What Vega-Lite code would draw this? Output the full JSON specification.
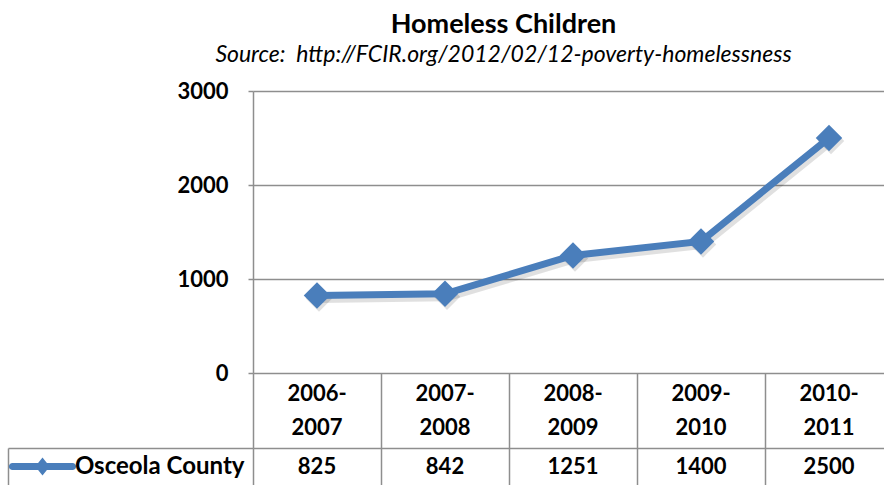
{
  "$schema": "https://vega.github.io/schema/vega-lite/v6.json",
  "background": "white",
  "padding": {"left": 8, "top": 11, "right": 0, "bottom": 0},
  "title": {
    "text": "Homeless Children",
    "subtitle": "Source:\u00a0 http://FCIR.org/2012/02/12-poverty-homelessness",
    "anchor": "middle",
    "dx": 53,
    "font": "Lato",
    "fontSize": 27,
    "fontWeight": "bold",
    "color": "black",
    "subtitleFont": "Lato",
    "subtitleFontSize": 23,
    "subtitleFontStyle": "italic",
    "subtitleColor": "black",
    "subtitlePadding": 5,
    "offset": 12
  },
  "datasets": {
    "homeless": [
      {"period": "2006-\n2007", "series": "Osceola County", "children": 825},
      {"period": "2007-\n2008", "series": "Osceola County", "children": 842},
      {"period": "2008-\n2009", "series": "Osceola County", "children": 1251},
      {"period": "2009-\n2010", "series": "Osceola County", "children": 1400},
      {"period": "2010-\n2011", "series": "Osceola County", "children": 2500}
    ],
    "seriesList": [{"series": "Osceola County"}]
  },
  "columns": 2,
  "spacing": 0,
  "bounds": "flush",
  "align": "each",
  "concat": [
    {
      "width": 245,
      "height": 282,
      "data": {"values": [{}]},
      "mark": {"type": "text", "text": ""},
      "encoding": {}
    },
    {
      "width": 631,
      "height": 282,
      "data": {"name": "homeless"},
      "encoding": {
        "x": {"field": "period", "type": "ordinal", "scale": {"type": "point", "range": [0, 640], "padding": 0.5}, "axis": null},
        "y": {
          "field": "children",
          "type": "quantitative",
          "scale": {"domain": [0, 3000], "nice": false},
          "axis": {"values": [0, 1000, 2000, 3000], "format": "d", "title": null, "grid": true, "tickSize": 5, "labelPadding": 20, "domainWidth": 1.5, "tickWidth": 1.5}
        }
      },
      "layer": [
        {"mark": {"type": "line", "color": "#000000", "opacity": 0.12, "strokeWidth": 9, "xOffset": 2, "yOffset": 3}},
        {"mark": {"type": "point", "shape": "diamond", "filled": true, "size": 700, "color": "#000000", "opacity": 0.12, "xOffset": 2, "yOffset": 3}},
        {"mark": {"type": "line", "color": "#4a7ebb", "strokeWidth": 7}},
        {"mark": {"type": "point", "shape": "diamond", "filled": true, "size": 700, "color": "#4a7ebb", "opacity": 1}}
      ]
    },
    {
      "width": 245,
      "height": 75,
      "data": {"values": [{}]},
      "mark": {"type": "text", "text": ""},
      "encoding": {}
    },
    {
      "width": 631,
      "height": 75,
      "data": {"name": "homeless"},
      "mark": {"type": "text", "font": "Lato", "fontSize": 22, "fontWeight": "bold", "lineBreak": "\n", "lineHeight": 34, "baseline": "middle", "dy": -17, "color": "black"},
      "encoding": {
        "x": {
          "field": "period",
          "type": "ordinal",
          "scale": {"type": "band", "range": [0, 640], "paddingInner": 0, "paddingOuter": 0},
          "axis": {"title": null, "labels": false, "ticks": false, "domain": false, "grid": true, "bandPosition": 0}
        },
        "text": {"field": "period", "type": "nominal"}
      }
    },
    {
      "width": 245,
      "height": 37,
      "data": {"name": "seriesList"},
      "mark": {
        "type": "point",
        "shape": "M-1,-0.12 L1,-0.12 A0.12,0.12 0 0 1 1,0.12 L-1,0.12 A0.12,0.12 0 0 1 -1,-0.12 Z M0,-0.3 L0.24,0 L0,0.3 L-0.24,0 Z",
        "size": 3600,
        "filled": true,
        "color": "#4a7ebb",
        "opacity": 1,
        "xOffset": -88
      },
      "encoding": {
        "y": {
          "field": "series",
          "type": "nominal",
          "scale": {"type": "band", "paddingInner": 0, "paddingOuter": 0},
          "axis": {"title": null, "labels": false, "ticks": false, "domain": true, "domainWidth": 1.5, "grid": true, "bandPosition": 0}
        }
      }
    },
    {
      "width": 631,
      "height": 37,
      "data": {"name": "homeless"},
      "mark": {"type": "text", "font": "Lato", "fontSize": 22, "fontWeight": "bold", "baseline": "middle", "color": "black"},
      "encoding": {
        "x": {
          "field": "period",
          "type": "ordinal",
          "scale": {"type": "band", "range": [0, 640], "paddingInner": 0, "paddingOuter": 0},
          "axis": {"title": null, "labels": false, "ticks": false, "domain": false, "grid": true, "bandPosition": 0}
        },
        "y": {
          "field": "series",
          "type": "nominal",
          "scale": {"type": "band", "paddingInner": 0, "paddingOuter": 0},
          "axis": {"title": null, "ticks": false, "domain": false, "grid": true, "bandPosition": 0, "labelPadding": 9, "labelFontSize": 24}
        },
        "text": {"field": "children", "type": "quantitative", "format": "d"}
      }
    }
  ],
  "config": {
    "font": "Lato",
    "view": {"stroke": null},
    "axis": {
      "labelFont": "Lato",
      "labelFontSize": 22,
      "labelFontWeight": "bold",
      "labelColor": "black",
      "gridColor": "#8e8e8e",
      "gridWidth": 1.5,
      "domainColor": "#8e8e8e",
      "tickColor": "#8e8e8e"
    }
  }
}
